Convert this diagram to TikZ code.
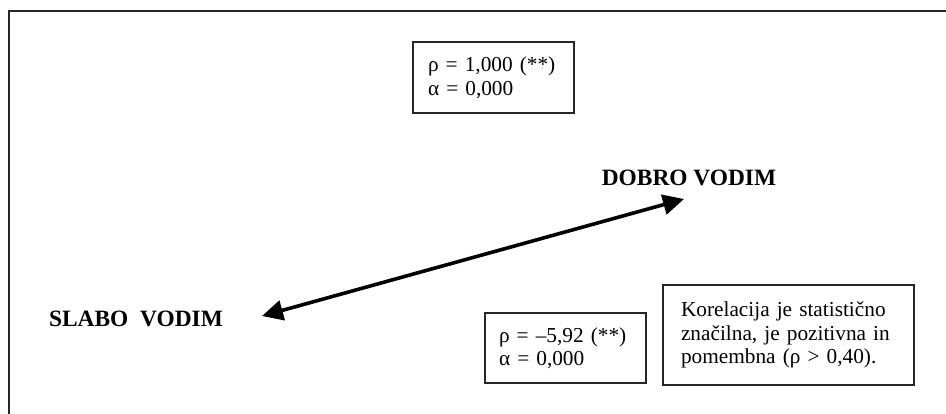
\documentclass[tikz,border=0pt]{standalone}
\usepackage{fontspec}
\setmainfont{Liberation Serif}
\usetikzlibrary{arrows.meta}
\tikzset{
  infobox/.style={draw=black!85, line width=1.3pt, align=left, inner ysep=0pt,
    font=\fontsize{21.3}{23.5}\selectfont, anchor=center},
  polelabel/.style={font=\fontsize{23.4}{26}\selectfont\bfseries, anchor=base, inner sep=0pt},
  linkarrow/.style={line width=3.6pt, {Triangle[length=21pt,width=20pt]}-{Triangle[length=21pt,width=20pt]}},
  frameline/.style={line width=2pt, draw=black!85}
}
\begin{document}
\begin{tikzpicture}[x=1pt,y=-1pt]
\useasboundingbox (0,0) rectangle (946,413);
\clip (0,0) rectangle (946,413);
\draw[frameline] (9,430) -- (9,11) -- (960,11);

\node[infobox, text width=131pt, inner xsep=15pt, minimum height=71pt] (top) at (493.5,77.5)
  {ρ = 1,000 (**)\\α = 0,000};
\node[infobox, text width=133pt, inner xsep=14pt, minimum height=70pt] (mid) at (565.5,348)
  {ρ = –5,92 (**)\\α = 0,000};
\node[infobox, text width=215pt, inner xsep=18pt, minimum height=100pt] (note) at (788.5,335)
  {Korelacija je statistično\\značilna, je pozitivna in\\pomembna (ρ > 0,40).};

\node[polelabel] (dobro) at (689,185) {DOBRO VODIM};
\node[polelabel] (slabo) at (136,326) {SLABO\ \ VODIM};

\coordinate (slabotip) at (262,316);
\coordinate (dobrotip) at (684,199);
\draw[linkarrow] (slabotip) -- (dobrotip);
\end{tikzpicture}
\end{document}
